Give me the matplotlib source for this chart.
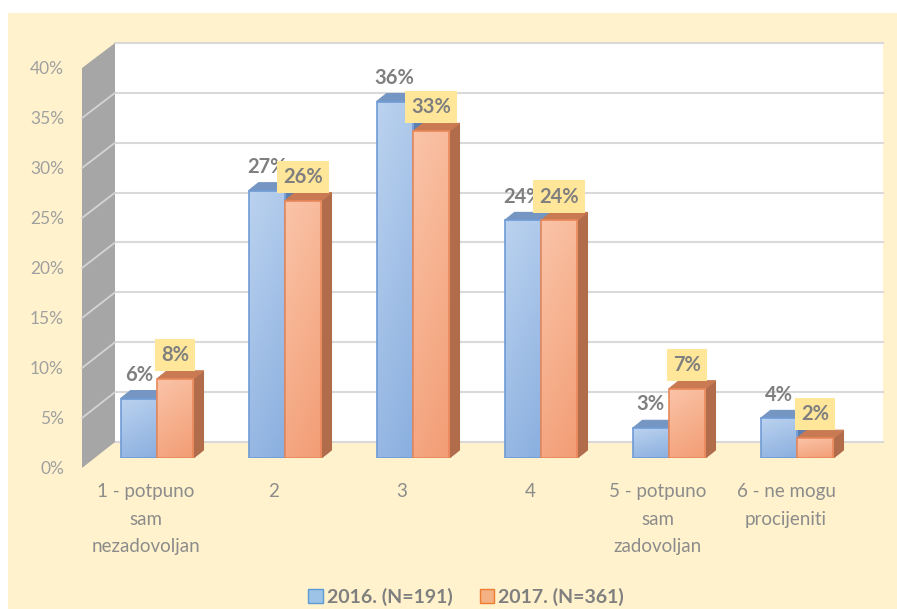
import matplotlib
matplotlib.use("Agg")
import matplotlib.pyplot as plt
import numpy as np
from matplotlib.patches import Rectangle, Polygon, Patch
from matplotlib.lines import Line2D
from matplotlib.colors import LinearSegmentedColormap

categories = ["1 - potpuno\nsam\nnezadovoljan", "2", "3", "4",
              "5 - potpuno\nsam\nzadovoljan", "6 - ne mogu\nprocijeniti"]
series_names = ["2016. (N=191)", "2017. (N=361)"]
values_2016 = [6, 27, 36, 24, 3, 4]
values_2017 = [8, 26, 33, 24, 7, 2]
y_ticks = [0, 5, 10, 15, 20, 25, 30, 35, 40]
y_tick_labels = [f"{t}%" for t in y_ticks]

plt.rcParams['font.family'] = ['Lato', 'DejaVu Sans']

W, H = 897, 609
fig = plt.figure(figsize=(W / 100, H / 100), dpi=100)
fig.patch.set_facecolor("white")


def px_axes(left, right, y0, y40):
    return [left / W, (H - y0) / H, (right - left) / W, (y0 - y40) / H]


fig.patches.append(Rectangle((8 / W, 0), 1 - 8 / W, (H - 13) / H,
                             transform=fig.transFigure, facecolor="#FFF2CC",
                             edgecolor="none", zorder=-10))

axw = fig.add_axes(px_axes(115, 883, 442, 43))   # back wall
axs = fig.add_axes(px_axes(82, 850, 468, 68))    # front edge (labels)
ax = fig.add_axes(px_axes(93, 861, 458, 62))     # bars
n = len(categories)
for a in (axw, axs, ax):
    a.set_xlim(-0.5, n - 0.5)
    a.set_ylim(0, 40)
    for s in a.spines.values():
        s.set_visible(False)
axs.patch.set_alpha(0)
ax.patch.set_alpha(0)
axw.set_facecolor("white")

# back wall grid
axw.set_yticks(y_ticks)
axw.set_xticks([])
axw.grid(axis='y', color='#D9D9D9', lw=1.5)
axw.tick_params(length=0, labelleft=False, labelbottom=False)
for gl in axw.get_ygridlines():
    gl.set_clip_on(False)

# side wall
inv = fig.transFigure.inverted()
def fpt(a, x, y):
    return inv.transform(a.transData.transform((x, y)))

side = Polygon([fpt(axs, -0.5, 0), fpt(axw, -0.5, 0), fpt(axw, -0.5, 40), fpt(axs, -0.5, 40)],
               closed=True, transform=fig.transFigure, facecolor='#A6A6A6',
               edgecolor='none', zorder=0.5, clip_on=False)
axs.add_artist(side)
for v in y_ticks[1:-1]:
    p0 = fpt(axs, -0.5, v)
    p1 = fpt(axw, -0.5, v)
    axs.add_artist(Line2D([p0[0], p1[0]], [p0[1], p1[1]], transform=fig.transFigure,
                          color='#D4D4D4', lw=1.3, zorder=0.6, clip_on=False))

# front axis labels
xpos = np.arange(n)
axs.set_yticks(y_ticks, y_tick_labels)
axs.set_xticks(xpos, categories)
axs.tick_params(axis='y', length=0, pad=13, labelsize=12.5, labelcolor='#A0A0A0')
axs.tick_params(axis='x', length=0, pad=11, labelsize=13.5, labelcolor='#8C8C8C')
for lbl in axs.get_xticklabels():
    lbl.set_linespacing(1.75)

ax.set_xticks([])
ax.set_yticks([])

# bars
bw = 0.285
bbox = ax.get_window_extent()
ddx = 10 / (bbox.width / n)
ddy = 8 / (bbox.height / 40)

styles = [
    dict(c0='#BBD2EF', c1='#8AAFDF', edge='#6E9BD6', top='#7596C3', side='#5D7FAE'),
    dict(c0='#FAC4A8', c1='#F29D74', edge='#E9875A', top='#C97A52', side='#B06C4B'),
]
series = [values_2016, values_2017]
gv = np.linspace(0, 1, 64)[:, None]
gh = np.linspace(0, 1, 16)[None, :]
grad = gv * 0.75 + gh * 0.25

for i in range(n):
    for s, vals in enumerate(series):
        st = styles[s]
        base_z = 2 + 2 * s
        xc = xpos[i] + (s - 0.5) * bw
        h = vals[i]
        x0, x1 = xc - bw / 2, xc + bw / 2
        ax.add_patch(Polygon([(x1, 0), (x1, h), (x1 + ddx, h + ddy), (x1 + ddx, ddy)],
                             closed=True, facecolor=st['side'], edgecolor=st['side'],
                             lw=0.8, zorder=base_z))
        ax.add_patch(Polygon([(x0, h), (x1, h), (x1 + ddx, h + ddy), (x0 + ddx, h + ddy)],
                             closed=True, facecolor=st['top'], edgecolor=st['top'],
                             lw=0.8, zorder=base_z))
        bar = ax.bar(xc, h, bw, color='none', edgecolor=st['edge'], lw=1.2,
                     zorder=base_z + 1.2)[0]
        cmap = LinearSegmentedColormap.from_list('g', [st['c0'], st['c1']])
        im = ax.imshow(grad, extent=(x0, x1, 0, h), aspect='auto', cmap=cmap,
                       zorder=base_z + 1, interpolation='bilinear')
        im.set_clip_path(bar)

ax.set_xlim(-0.5, n - 0.5)
ax.set_ylim(0, 40)
ax.set_aspect('auto')

# data labels
for i in range(n):
    xb = xpos[i] - 0.5 * bw
    xo = xpos[i] + 0.5 * bw
    ax.annotate(f"{values_2016[i]}%", xy=(xb, values_2016[i]), xytext=(0, 10),
                textcoords='offset points', ha='center', va='bottom', fontsize=14.5,
                fontweight='bold', color='#7F7F7F', zorder=8, annotation_clip=False)
    ax.annotate(f"{values_2017[i]}%", xy=(xo, values_2017[i]), xytext=(0, 10),
                textcoords='offset points', ha='center', va='bottom', fontsize=14.5,
                fontweight='bold', color='#7F7F7F', zorder=9, annotation_clip=False,
                bbox=dict(boxstyle='square,pad=0.3', fc='#FFE699', ec='none'))

# legend
handles = [Patch(facecolor='#9DC3E6', edgecolor='#5B9BD5'),
           Patch(facecolor='#F4B183', edgecolor='#ED7D31')]
leg = fig.legend(handles, series_names, loc='center',
                 bbox_to_anchor=(466 / W, (H - 597) / H), ncol=2, frameon=False,
                 prop={'family': 'Lato', 'weight': 'bold', 'size': 14},
                 labelcolor='#7F7F7F', handlelength=0.75, handleheight=0.75,
                 handletextpad=0.2, columnspacing=1.4)

fig.savefig("out.png", dpi=100, facecolor=fig.get_facecolor())
